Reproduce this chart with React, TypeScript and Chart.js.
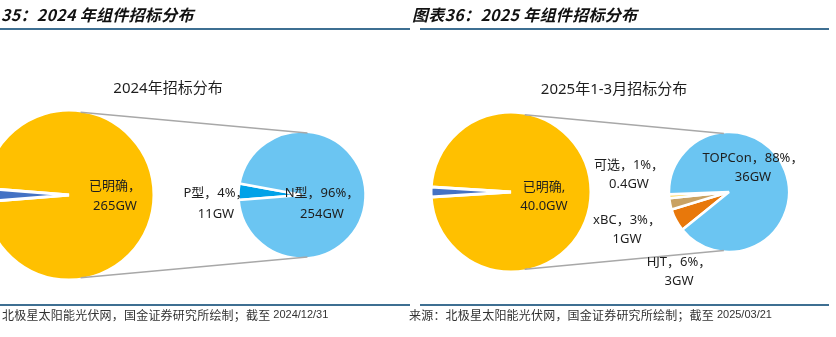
import React, { useEffect, useRef } from "react";
import { Chart, registerables } from "chart.js";

Chart.register(...registerables);

// ---------------- data ----------------
const leftHeader = "35：2024 年组件招标分布";
const rightHeader = "图表36：2025 年组件招标分布";
const leftTitle = "2024年招标分布";
const rightTitle = "2025年1-3月招标分布";
const leftSourceText = "北极星太阳能光伏网，国金证券研究所绘制；截至 ";
const leftSourceDate = "2024/12/31";
const rightSourceText = "来源：北极星太阳能光伏网，国金证券研究所绘制；截至 ";
const rightSourceDate = "2025/03/21";

// 2024: main pie (GW)
const mainCategories24 = ["已明确", "未明确"];
const mainValues24 = [265, 7];
// 2024: secondary pie
const subCategories24 = ["P型", "N型"];
const subShares24 = [4, 96];
const subValues24 = [11, 254];

// 2025 Q1: main pie (GW)
const mainCategories25 = ["已明确", "未明确"];
const mainValues25 = [40.0, 0.8];
// 2025 Q1: secondary pie
const subCategories25 = ["HJT", "xBC", "可选", "TOPCon"];
const subShares25 = [6, 3, 1, 88];
const subValues25 = [3, 1, 0.4, 36];

// ---------------- styles / layout ----------------
const W = 836;
const H = 337;
const YELLOW = "#FFC000";
const DARK_BLUE = "#4472C4";
const LIGHT_BLUE = "#6BC5F2";
const BRIGHT_BLUE = "#00A2E8";
const ORANGE = "#E8780B";
const TAN = "#C9A263";
const PALE_YELLOW = "#FFD75E";
const TEXT = "#1e1e1e";
const RULE = "#3E6F92";
const CONNECTOR = "#A8A8A8";
const LABEL_FONT = '13px "Noto Sans", "Noto Sans CJK SC", sans-serif';

type PieSpec = {
  cx: number;
  cy: number;
  r: number;
  bw: number;
  values: number[];
  colors: string[];
  rotation: number;
};

function mainRotation(values: number[]) {
  const total = values.reduce((a, b) => a + b, 0);
  const restDeg = (values[1] / total) * 360;
  return 270 + restDeg / 2; // remainder slice centred at the left (180deg)
}

const pieSpecs: PieSpec[] = [
  { cx: 69, cy: 195, r: 85, bw: 3, values: mainValues24, colors: [YELLOW, DARK_BLUE], rotation: mainRotation(mainValues24) },
  { cx: 302, cy: 195, r: 63.5, bw: 2.5, values: subValues24, colors: [BRIGHT_BLUE, LIGHT_BLUE], rotation: 265.5 },
  { cx: 511, cy: 192, r: 80, bw: 3, values: mainValues25, colors: [YELLOW, DARK_BLUE], rotation: mainRotation(mainValues25) },
  { cx: 729, cy: 192, r: 60, bw: 2.5, values: subShares25, colors: [ORANGE, TAN, PALE_YELLOW, LIGHT_BLUE], rotation: 231 },
];

function canvasBox(p: PieSpec) {
  const half = Math.ceil(p.r) + 6;
  return { left: Math.round(p.cx) - half, top: Math.round(p.cy) - half, size: half * 2 };
}

export default function App() {
  const pieRefs = [useRef<HTMLCanvasElement>(null), useRef<HTMLCanvasElement>(null), useRef<HTMLCanvasElement>(null), useRef<HTMLCanvasElement>(null)];
  const overlayRef = useRef<HTMLCanvasElement>(null);

  useEffect(() => {
    const charts: Chart[] = pieSpecs.map((p, i) => {
      const canvas = pieRefs[i].current as HTMLCanvasElement;
      return new Chart(canvas, {
        type: "pie",
        data: {
          labels: p.values.map((_, k) => String(k)),
          datasets: [
            {
              data: p.values,
              backgroundColor: p.colors,
              borderColor: "#ffffff",
              borderWidth: p.bw,
              hoverOffset: 0,
            },
          ],
        },
        options: {
          responsive: false,
          maintainAspectRatio: false,
          animation: false,
          events: [],
          radius: p.r,
          rotation: p.rotation,
          layout: { padding: 0 },
          plugins: { legend: { display: false }, tooltip: { enabled: false }, title: { display: false } },
        } as any,
      });
    });

    // geometry of each pie in page coordinates
    const geo = charts.map((c, i) => {
      const arc: any = c.getDatasetMeta(0).data[0];
      const box = canvasBox(pieSpecs[i]);
      return { x: arc.x + box.left, y: arc.y + box.top, r: arc.outerRadius - pieSpecs[i].bw / 2 };
    });

    const ov = overlayRef.current as HTMLCanvasElement;
    const ctx = ov.getContext("2d") as CanvasRenderingContext2D;
    ctx.clearRect(0, 0, W, H);

    // header / footer rules
    ctx.strokeStyle = RULE;
    ctx.lineWidth = 2;
    const rule = (x1: number, x2: number, y: number) => {
      ctx.beginPath();
      ctx.moveTo(x1, y);
      ctx.lineTo(x2, y);
      ctx.stroke();
    };
    rule(0, 410, 29);
    rule(420, 829, 29);
    rule(0, 410, 305);
    rule(420, 829, 305);

    // headers
    ctx.fillStyle = "#111";
    ctx.textBaseline = "middle";
    ctx.textAlign = "left";
    ctx.font = 'italic bold 16px "Noto Sans CJK SC", sans-serif';
    (ctx as any).letterSpacing = "0.3px";
    ctx.fillText(leftHeader, 1, 15);
    ctx.fillText(rightHeader, 412, 15);
    (ctx as any).letterSpacing = "0px";

    // footers
    const footer = (text: string, date: string, x: number) => {
      ctx.fillStyle = "#333";
      ctx.font = '12px "Noto Sans CJK SC", sans-serif';
      (ctx as any).letterSpacing = "0.2px";
      ctx.fillText(text, x, 315);
      const w = ctx.measureText(text).width;
      (ctx as any).letterSpacing = "0px";
      ctx.font = '11px "Liberation Sans", sans-serif';
      ctx.fillText(date, x + w, 315);
    };
    footer(leftSourceText, leftSourceDate, 2);
    footer(rightSourceText, rightSourceDate, 409);

    // chart titles
    ctx.fillStyle = TEXT;
    ctx.textAlign = "center";
    ctx.font = '15px "Noto Sans", "Noto Sans CJK SC", sans-serif';
    ctx.fillText(leftTitle, 168, 89);
    ctx.fillText(rightTitle, 614, 90);

    // connector lines (main pie -> secondary pie)
    const deg = Math.PI / 180;
    const connect = (m: { x: number; y: number; r: number }, s: { x: number; y: number; r: number }, a1: number, a2: number) => {
      ctx.strokeStyle = CONNECTOR;
      ctx.lineWidth = 1.5;
      for (const sign of [-1, 1]) {
        ctx.beginPath();
        ctx.moveTo(m.x + m.r * Math.cos(sign * a1 * deg), m.y + m.r * Math.sin(sign * a1 * deg));
        ctx.lineTo(s.x + s.r * Math.cos(sign * a2 * deg), s.y + s.r * Math.sin(sign * a2 * deg));
        ctx.stroke();
      }
    };
    connect(geo[0], geo[1], 82, 85);
    connect(geo[2], geo[3], 80, 95);

    // data labels
    ctx.fillStyle = TEXT;
    ctx.font = LABEL_FONT;
    ctx.textAlign = "center";
    const label = (g: { x: number; y: number }, dx: number, dy: number, lh: number, lines: string[]) => {
      lines.forEach((t, i) => ctx.fillText(t, g.x + dx, g.y + dy + i * lh));
    };
    label(geo[0], 46, -9, 20, [`${mainCategories24[0]}，`, `${mainValues24[0]}GW`]);
    label(geo[1], -86, -2, 21, [`${subCategories24[0]}，${subShares24[0]}%，`, `${subValues24[0]}GW`]);
    label(geo[1], 20, -2, 21, [`${subCategories24[1]}，${subShares24[1]}%，`, `${subValues24[1]}GW`]);

    label(geo[2], 33, -5, 19, [`${mainCategories25[0]},`, `${mainValues25[0].toFixed(1)}GW`]);
    const subOffsets25: [number, number][] = [
      [-50, 70],
      [-102, 28],
      [-100, -27],
      [24, -34],
    ];
    subCategories25.forEach((c, i) => {
      label(geo[3], subOffsets25[i][0], subOffsets25[i][1], 19.5, [`${c}，${subShares25[i]}%，`, `${subValues25[i]}GW`]);
    });

    return () => {
      charts.forEach((c) => c.destroy());
    };
  }, []);

  return (
    <div style={{ position: "absolute", left: 0, top: 0, width: W, height: H, overflow: "hidden", background: "#fff" }}>
      {pieSpecs.map((p, i) => {
        const b = canvasBox(p);
        return (
          <canvas
            key={i}
            ref={pieRefs[i]}
            width={b.size}
            height={b.size}
            style={{ position: "absolute", left: b.left, top: b.top, width: b.size, height: b.size }}
          />
        );
      })}
      <canvas ref={overlayRef} width={W} height={H} style={{ position: "absolute", left: 0, top: 0, width: W, height: H, pointerEvents: "none" }} />
    </div>
  );
}
